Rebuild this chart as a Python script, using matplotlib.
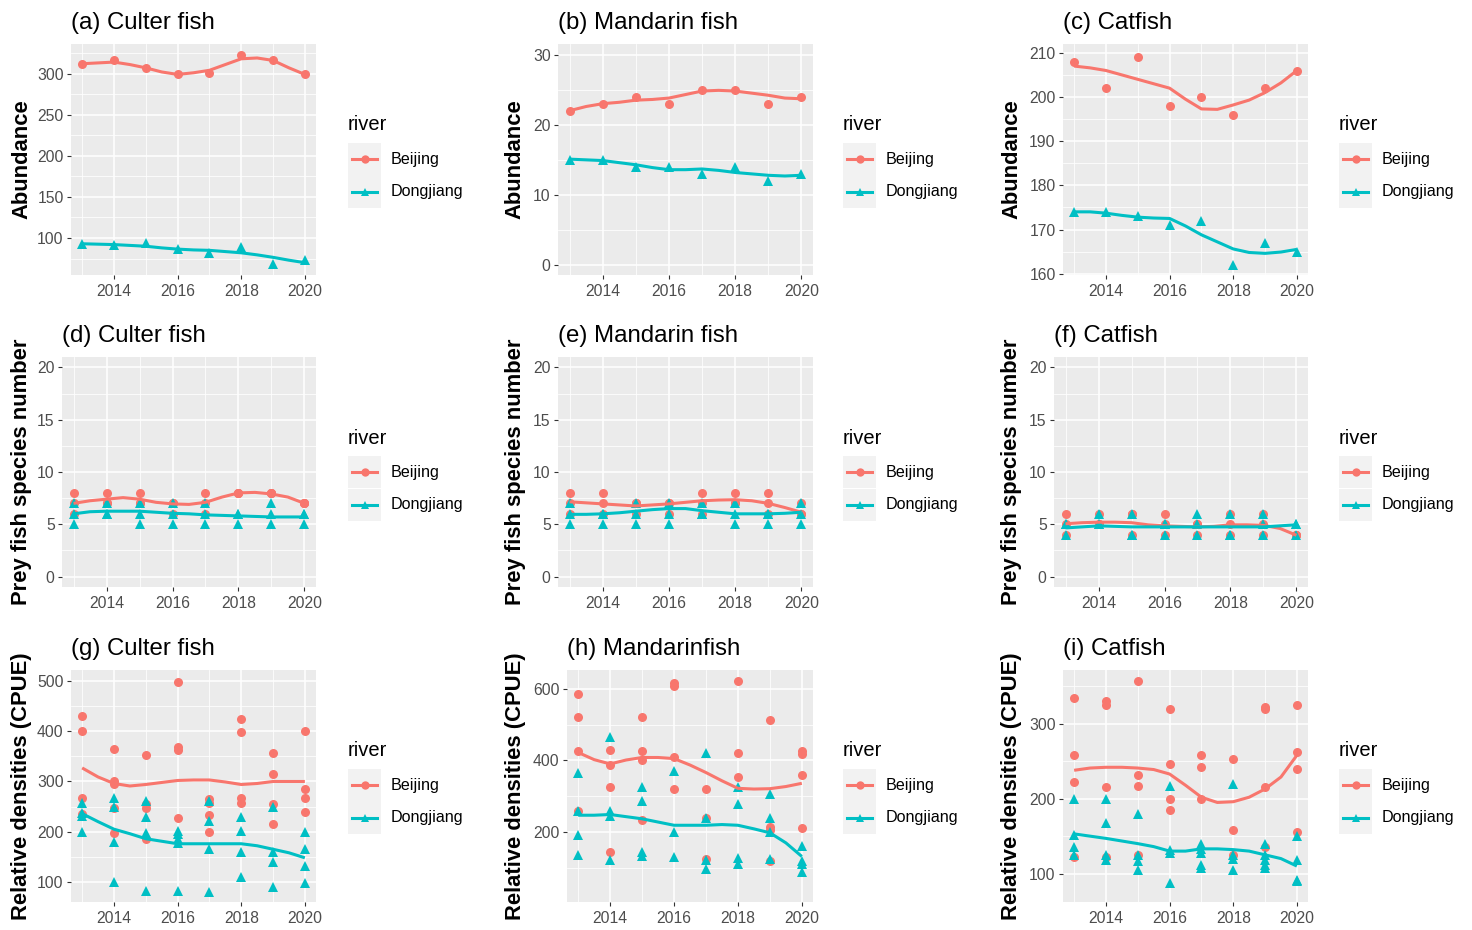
import matplotlib.pyplot as plt
from matplotlib.lines import Line2D
from matplotlib.patches import Rectangle

plt.rcParams['font.family'] = ['Liberation Sans', 'DejaVu Sans']

W, H = 1472, 930
BJ = '#F8766D'
DJ = '#00BFC4'

years = [2013, 2014, 2015, 2016, 2017, 2018, 2019, 2020]
fit_x = [2013, 2013.5, 2014, 2014.5, 2015, 2015.5, 2016, 2016.5,
         2017, 2017.5, 2018, 2018.5, 2019, 2019.5, 2020]

# (a) Culter fish - abundance
a_bj = [312, 317, 307, 299, 301, 323, 316, 299]
a_dj = [93, 92, 94, 87, 82, 89, 68, 73]
a_bj_fit = [312, 313, 314, 311, 307, 302, 299, 301, 304, 311, 318, 319, 316, 307, 299]
a_dj_fit = [93, 92.5, 92, 91, 90, 88, 86.5, 85.5, 85, 83.5, 82, 79.5, 76.5, 73, 70]

# (b) Mandarin fish - abundance
b_bj = [22, 23, 24, 23, 25, 25, 23, 24]
b_dj = [15, 15, 14, 14, 13, 14, 12, 13]
b_bj_fit = [22.0, 22.6, 23.0, 23.2, 23.5, 23.6, 23.8, 24.3, 24.8, 24.9, 24.8, 24.5, 24.2, 23.8, 23.7]
b_dj_fit = [15.1, 15.0, 14.9, 14.6, 14.3, 13.9, 13.6, 13.6, 13.7, 13.5, 13.2, 13.0, 12.8, 12.7, 12.8]

# (c) Catfish - abundance
c_bj = [208, 202, 209, 198, 200, 196, 202, 206]
c_dj = [174, 174, 173, 171, 172, 162, 167, 165]
c_bj_fit = [207, 206.6, 206, 205, 204, 203, 202, 199.5, 197.3, 197.2, 198.2, 199.3, 201, 203.2, 206]
c_dj_fit = [174, 174, 173.7, 173.2, 172.8, 172.6, 172.5, 170.8, 168.8, 167.2, 165.6, 164.8, 164.6, 164.9, 165.5]

# (d) Culter fish - prey fish species number
d_bj = [[8, 7, 6], [8, 7, 7], [8, 7, 7], [7, 7, 6], [8, 7, 6], [8, 8, 8], [8, 8, 8], [7, 7, 7]]
d_dj = [[7, 6, 5], [7, 6, 6], [7, 6, 5], [7, 6, 5], [7, 6, 5], [6, 6, 5], [7, 6, 5], [6, 6, 5]]
d_bj_fit = [7.0, 7.25, 7.4, 7.55, 7.4, 7.1, 6.95, 6.9, 7.1, 7.6, 8.0, 8.05, 7.9, 7.6, 7.0]
d_dj_fit = [6.0, 6.2, 6.25, 6.25, 6.25, 6.15, 6.05, 6.0, 5.9, 5.85, 5.8, 5.75, 5.7, 5.7, 5.7]

# (e) Mandarin fish - prey fish species number
e_bj = [[8, 7, 6], [8, 7, 6], [7, 7, 6], [7, 7, 6], [8, 7, 6], [8, 7, 7], [8, 7, 6], [7, 6, 6]]
e_dj = [[7, 6, 5], [6, 6, 5], [7, 6, 5], [7, 6, 5], [7, 6, 6], [7, 6, 5], [6, 6, 5], [7, 6, 5]]
e_bj_fit = [7.15, 7.05, 6.95, 6.85, 6.75, 6.85, 6.95, 7.1, 7.25, 7.32, 7.35, 7.25, 7.0, 6.6, 6.15]
e_dj_fit = [5.95, 5.95, 6.0, 6.1, 6.25, 6.4, 6.5, 6.5, 6.3, 6.15, 6.0, 6.0, 6.0, 6.05, 6.15]

# (f) Catfish - prey fish species number
f_bj = [[6, 5, 4], [6, 5, 5], [6, 6, 4], [6, 5, 4], [5, 5, 4], [6, 5, 4], [6, 5, 4], [4, 4, 4]]
f_dj = [[5, 5, 4], [6, 5, 5], [6, 4, 4], [5, 5, 4], [6, 5, 4], [6, 4, 4], [6, 5, 4], [5, 5, 4]]
f_bj_fit = [5.05, 5.15, 5.2, 5.2, 5.15, 4.95, 4.85, 4.8, 4.75, 4.8, 4.95, 4.95, 4.9, 4.6, 3.95]
f_dj_fit = [4.65, 4.75, 4.85, 4.8, 4.75, 4.75, 4.75, 4.75, 4.75, 4.75, 4.75, 4.75, 4.75, 4.85, 4.95]

# (g) Culter fish - CPUE
g_bj = [[430, 400, 267, 235], [365, 300, 295, 248, 198], [352, 255, 248, 185],
        [498, 368, 363, 228], [265, 258, 233, 200], [425, 398, 268, 258],
        [357, 315, 255, 215], [400, 285, 268, 240]]
g_dj = [[258, 238, 232, 200], [268, 250, 180, 100], [262, 230, 197, 82],
        [202, 195, 185, 178, 82], [262, 222, 165, 80], [230, 202, 160, 110],
        [250, 160, 140, 90], [200, 165, 132, 97]]
g_bj_fit = [327, 309, 296, 291, 294, 298, 302, 303, 303, 299, 294, 296, 300, 300, 300]
g_dj_fit = [236, 220, 205, 196, 186, 181, 176, 176, 176, 176, 176, 172, 165, 158, 148]

# (h) Mandarinfish - CPUE
h_bj = [[585, 520, 425, 258], [428, 388, 325, 145], [520, 425, 400, 235],
        [615, 608, 408, 320], [320, 240, 125], [620, 420, 353],
        [512, 215, 205, 120], [425, 418, 358, 212]]
h_dj = [[365, 260, 192, 135], [465, 258, 245, 122], [325, 288, 145, 132],
        [370, 200, 130], [420, 238, 122, 98], [325, 278, 128, 112],
        [305, 238, 200, 125], [160, 120, 110, 90]]
h_bj_fit = [422, 402, 390, 401, 408, 408, 405, 387, 366, 343, 322, 320, 321, 327, 336]
h_dj_fit = [247, 247, 249, 243, 237, 228, 219, 219, 219, 221, 219, 209, 198, 170, 132]

# (i) Catfish - CPUE
i_bj = [[335, 258, 222, 122], [330, 325, 215, 122], [357, 232, 217, 125],
        [320, 247, 200, 185], [258, 243, 200], [253, 158, 125],
        [323, 320, 215, 135], [325, 262, 240, 155]]
i_dj = [[200, 152, 135, 125], [200, 168, 125, 118], [180, 125, 117, 105],
        [217, 132, 128, 88], [140, 133, 128, 112, 108], [220, 125, 120, 105],
        [140, 125, 118, 112, 107], [150, 118, 92, 90]]
i_bj_fit = [238, 241, 242, 242, 241, 239, 233, 218, 202, 195, 196, 202, 213, 229, 258]
i_dj_fit = [153, 150, 147, 143.5, 140, 136, 130, 130, 133, 133, 132, 130, 125, 120, 110]

titles = ['(a) Culter fish', '(b) Mandarin fish', '(c) Catfish',
          '(d) Culter fish', '(e) Mandarin fish', '(f) Catfish',
          '(g) Culter fish', '(h) Mandarinfish', '(i) Catfish']
ylabels = ['Abundance', 'Prey fish species number', 'Relative densities (CPUE)']

panels = [
    (a_bj, a_dj, a_bj_fit, a_dj_fit, (55, 336), [100, 150, 200, 250, 300], [75, 125, 175, 225, 275, 325]),
    (b_bj, b_dj, b_bj_fit, b_dj_fit, (-1.4, 31.5), [0, 10, 20, 30], [5, 15, 25]),
    (c_bj, c_dj, c_bj_fit, c_dj_fit, (159.7, 212), [160, 170, 180, 190, 200, 210], [165, 175, 185, 195, 205]),
    (d_bj, d_dj, d_bj_fit, d_dj_fit, (-1, 21), [0, 5, 10, 15, 20], [2.5, 7.5, 12.5, 17.5]),
    (e_bj, e_dj, e_bj_fit, e_dj_fit, (-1, 21), [0, 5, 10, 15, 20], [2.5, 7.5, 12.5, 17.5]),
    (f_bj, f_dj, f_bj_fit, f_dj_fit, (-1, 21), [0, 5, 10, 15, 20], [2.5, 7.5, 12.5, 17.5]),
    (g_bj, g_dj, g_bj_fit, g_dj_fit, (60, 522), [100, 200, 300, 400, 500], [150, 250, 350, 450]),
    (h_bj, h_dj, h_bj_fit, h_dj_fit, (5, 652), [200, 400, 600], [100, 300, 500]),
    (i_bj, i_dj, i_bj_fit, i_dj_fit, (62, 372), [100, 200, 300], [150, 250, 350]),
]

# panel boxes in pixels: left, top, right, bottom
boxes = [(71, 44, 316, 275), (558, 44, 813, 275), (1063, 44, 1308, 275),
         (62, 357, 316, 587), (558, 357, 813, 587), (1054, 357, 1308, 587),
         (71, 670, 316, 902), (567, 670, 813, 902), (1063, 670, 1308, 902)]
ylab_x = [22, 515, 1012]
legend_x = [348, 843, 1339]


def fx(x):
    return x / W


def fy(y):
    return 1 - y / H


def flatten(vals):
    xs, ys = [], []
    for yr, v in zip(years, vals):
        for one in (v if isinstance(v, list) else [v]):
            xs.append(yr)
            ys.append(one)
    return xs, ys


fig = plt.figure(figsize=(W / 100, H / 100), dpi=100)

for k, (bj, dj, bj_fit, dj_fit, ylim, major, minor) in enumerate(panels):
    l, t, r, b = boxes[k]
    ax = fig.add_axes([fx(l), fy(b), (r - l) / W, (b - t) / H])
    ax.set_facecolor('#EBEBEB')
    for s in ax.spines.values():
        s.set_visible(False)
    ax.set_xlim(2012.65, 2020.35)
    ax.set_ylim(*ylim)
    ax.set_xticks([2014, 2016, 2018, 2020])
    ax.set_xticks([2013, 2015, 2017, 2019], minor=True)
    ax.set_yticks(major)
    ax.set_yticks(minor, minor=True)
    ax.grid(which='major', color='white', linewidth=1.1)
    ax.grid(which='minor', color='white', linewidth=0.55)
    ax.set_axisbelow(True)
    ax.tick_params(which='minor', length=0)
    ax.tick_params(which='major', length=2.75, width=0.8, color='#333333',
                   labelcolor='#4D4D4D', labelsize=11.3)
    ax.tick_params(axis='x', pad=3.5)
    ax.tick_params(axis='y', pad=2.5)

    for vals, fit, col, mk in [(bj, bj_fit, BJ, 'o'), (dj, dj_fit, DJ, '^')]:
        xs, ys = flatten(vals)
        ax.plot(xs, ys, mk, color=col, markersize=6.5, markeredgewidth=0, zorder=3)
        ax.plot(fit_x, fit, '-', color=col, linewidth=2.2, zorder=4,
                solid_joinstyle='round', solid_capstyle='butt')

    fig.text(fx(l), fy(t - 15), titles[k], fontsize=17.3, ha='left', va='baseline')
    row, col_i = divmod(k, 3)
    fig.text(fx(ylab_x[col_i]), fy((t + b) / 2), ylabels[row], rotation=90,
             fontsize=15.8, fontweight='bold', ha='center', va='center')

    # legend
    lx = legend_x[col_i]
    fig.text(fx(lx), fy(t + 81), 'river', fontsize=14.5, ha='left', va='center')
    key_h = 32.5
    for j, (name, colr, mk) in enumerate([('Beijing', BJ, 'o'), ('Dongjiang', DJ, '^')]):
        top = t + 99 + j * key_h
        fig.add_artist(Rectangle((fx(lx), fy(top + key_h)), 33 / W, key_h / H,
                                 transform=fig.transFigure, facecolor='#F2F2F2',
                                 edgecolor='none'))
        yc = fy(top + key_h / 2)
        fig.add_artist(Line2D([fx(lx + 4), fx(lx + 29)], [yc, yc], color=colr,
                              linewidth=2.2, transform=fig.transFigure))
        fig.add_artist(Line2D([fx(lx + 16.5)], [yc], marker=mk, color=colr,
                              markersize=6, markeredgewidth=0,
                              transform=fig.transFigure))
        fig.text(fx(lx + 43), yc, name, fontsize=11.6, ha='left', va='center')

fig.savefig('out.png', dpi=100)
